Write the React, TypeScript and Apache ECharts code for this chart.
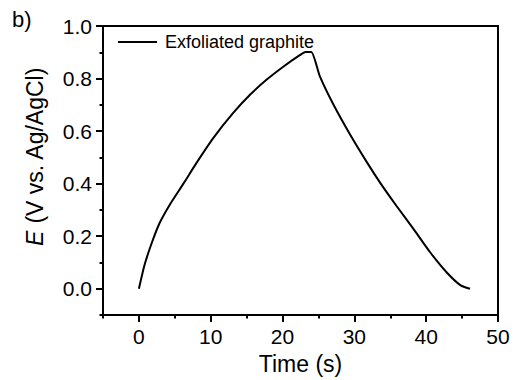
import React, { useEffect, useRef } from "react";
import * as echarts from "echarts";

const timeS = [0, 0.8, 1.8, 2.9, 4.3, 6.2, 8.0, 10.4, 13.1, 15.5, 17.8, 20.1, 22.4, 23.2, 24.0, 25.2, 27.1, 29.4, 31.8, 33.6, 35.9, 38.3, 40.6, 42.9, 44.8, 46.1];
const potential = [0, 0.092, 0.175, 0.251, 0.32, 0.4, 0.478, 0.575, 0.668, 0.739, 0.796, 0.845, 0.889, 0.901, 0.901, 0.808, 0.7, 0.587, 0.479, 0.403, 0.314, 0.225, 0.137, 0.061, 0.013, 0];
const xTicks = [0, 10, 20, 30, 40, 50];
const yTicks = [0, 0.2, 0.4, 0.6, 0.8, 1.0];
const seriesName = "Exfoliated graphite";

const FONT = "'Liberation Sans', Arial, Helvetica, sans-serif";

export default function App() {
  const ref = useRef<HTMLDivElement>(null);
  useEffect(() => {
    if (!ref.current) return;
    const chart = echarts.init(ref.current, null, { renderer: "svg" });
    const data = timeS.map((t, i) => [t, potential[i]]);
    const axisLine = { onZero: false, lineStyle: { color: "#000", width: 2 } };
    chart.setOption({
      animation: false,
      textStyle: { fontFamily: FONT, color: "#000" },
      grid: {
        left: 103,
        right: 16,
        top: 26,
        bottom: 64,
        show: true,
        borderColor: "#000",
        borderWidth: 2,
        containLabel: false,
      },
      legend: {
        data: [seriesName],
        left: 118,
        top: 33,
        padding: 0,
        icon: "rect",
        itemWidth: 39,
        itemHeight: 2,
        itemGap: 8,
        itemStyle: { color: "#000" },
        textStyle: { fontFamily: FONT, fontSize: 18, color: "#000", padding: [0, 0, 0, 3] },
      },
      graphic: [
        {
          type: "text",
          left: 12,
          top: 8,
          style: { text: "b)", fontFamily: FONT, fontSize: 22, fill: "#000" },
        },
      ],
      xAxis: [
        {
          type: "value",
          min: -5,
          max: 50,
          position: "bottom",
          axisLine,
          axisTick: { customValues: xTicks, length: 7, lineStyle: { color: "#000", width: 2 } },
          axisLabel: {
            customValues: xTicks,
            fontSize: 21,
            color: "#000",
            fontFamily: FONT,
            margin: 11,
          },
          splitLine: { show: false },
          name: "Time (s)",
          nameLocation: "middle",
          nameGap: 37,
          nameTextStyle: { fontSize: 23, color: "#000", fontFamily: FONT },
        },
        {
          type: "value",
          min: -5,
          max: 50,
          interval: 5,
          position: "bottom",
          axisLine: { show: false, onZero: false },
          axisTick: { length: 3.5, lineStyle: { color: "#000", width: 2 } },
          axisLabel: { show: false },
          splitLine: { show: false },
        },
      ],
      yAxis: [
        {
          type: "value",
          min: -0.1,
          max: 1.0,
          position: "left",
          axisLine,
          axisTick: { customValues: yTicks, length: 7, lineStyle: { color: "#000", width: 2 } },
          axisLabel: {
            customValues: yTicks,
            fontSize: 21,
            color: "#000",
            fontFamily: FONT,
            margin: 11,
            formatter: (v: number) => v.toFixed(1),
          },
          splitLine: { show: false },
          name: "{i|E} (V vs. Ag/AgCl)",
          nameLocation: "middle",
          nameGap: 57,
          nameTextStyle: {
            fontSize: 23,
            color: "#000",
            fontFamily: FONT,
            padding: [0, 0, 0, 28],
            rich: { i: { fontStyle: "italic", fontSize: 23, fontFamily: FONT, color: "#000" } },
          },
        },
        {
          type: "value",
          min: -0.1,
          max: 1.0,
          interval: 0.1,
          position: "left",
          axisLine: { show: false, onZero: false },
          axisTick: { length: 3.5, lineStyle: { color: "#000", width: 2 } },
          axisLabel: { show: false },
          splitLine: { show: false },
        },
      ],
      series: [
        {
          name: seriesName,
          type: "line",
          xAxisIndex: 0,
          yAxisIndex: 0,
          data,
          symbol: "none",
          smooth: 0.2,
          lineStyle: { color: "#000", width: 2 },
          itemStyle: { color: "#000" },
        },
      ],
    });
    return () => chart.dispose();
  }, []);
  return (
    <div
      ref={ref}
      style={{ position: "fixed", left: 0, top: 0, width: 514, height: 380, background: "#fff" }}
    />
  );
}
